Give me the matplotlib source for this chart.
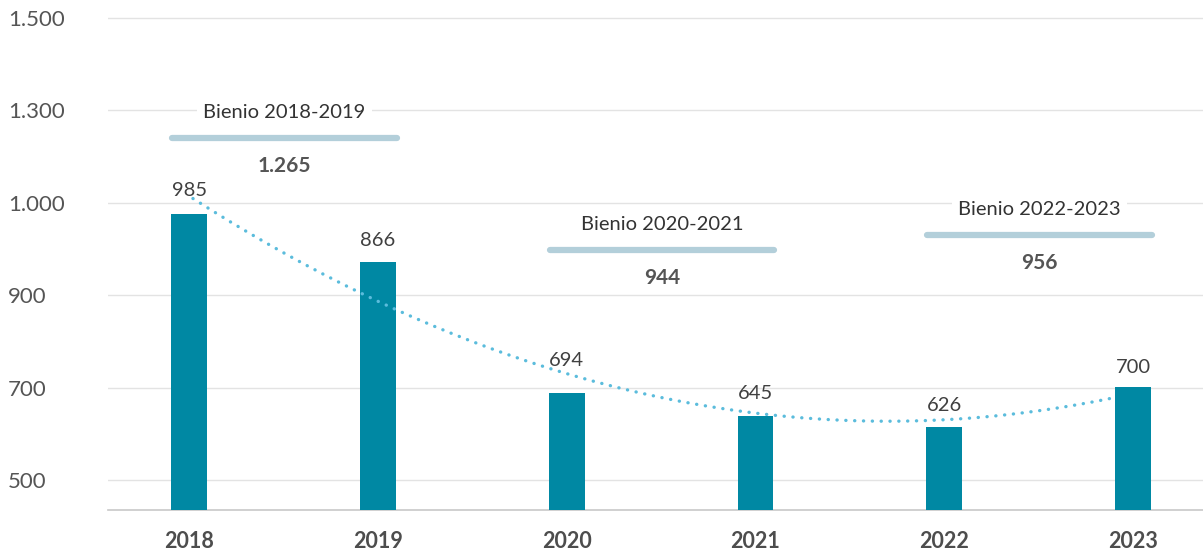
import numpy as np
import matplotlib.pyplot as plt

plt.rcParams['font.family'] = ['Lato', 'DejaVu Sans']

years = ["2018", "2019", "2020", "2021", "2022", "2023"]
bar_heights = [988, 936, 689, 639, 615, 702]
bar_labels = ["985", "866", "694", "645", "626", "700"]
bienios = ["Bienio 2018-2019", "Bienio 2020-2021", "Bienio 2022-2023"]
bienio_totals = ["1.265", "944", "956"]
tick_vals = [500, 700, 900, 1000, 1300, 1500]
tick_names = ["500", "700", "900", "1.000", "1.300", "1.500"]

# uneven axis: each tick label sits at equal spacing
knot_v = np.array([300] + tick_vals + [1700], dtype=float)
knot_p = np.arange(-1, len(tick_vals) + 1, dtype=float)


def fwd(v):
    return np.interp(v, knot_v, knot_p)


def inv(p):
    return np.interp(p, knot_p, knot_v)


bar_col = "#0088a3"
band_col = "#b3cfda"
trend_col = "#5bbcdc"
label_off = [11, 9.5, 17, 10, 9, 7.5]

fig = plt.figure(figsize=(12.03, 5.53), dpi=100)
ax = fig.add_axes([108 / 1203, 43 / 553, 1 - 108 / 1203, (510 - 10) / 553])
ax.set_yscale("function", functions=(fwd, inv))

x = np.arange(len(years))
ax.bar(x, bar_heights, width=0.19, color=bar_col, zorder=3)
for xi, h, lab, off in zip(x, bar_heights, bar_labels, label_off):
    ax.annotate(lab, (xi, h), xytext=(0, off), textcoords="offset points",
                ha="center", va="bottom", fontsize=14.5, color="#404040", zorder=5)

# quadratic trend fitted on the bar positions
coef = np.polyfit(x, fwd(np.array(bar_heights, dtype=float)), 2)
xt = np.linspace(0.02, 4.88, 200)
ax.plot(xt, inv(np.polyval(coef, xt)), color=trend_col, lw=2.4,
        linestyle=(0, (0.05, 2.6)), dash_capstyle="round", zorder=4)

# bienio bands
band_y = [1210, 949, 965]
for i, (name, tot, yb) in enumerate(zip(bienios, bienio_totals, band_y)):
    x0 = 2 * i - 0.09
    x1 = 2 * i + 1.1
    ax.plot([x0, x1], [yb, yb], color=band_col, lw=4.5, solid_capstyle="round", zorder=4)
    xc = (x0 + x1) / 2
    ax.annotate(name, (xc, yb), xytext=(0, 18.5), textcoords="offset points",
                ha="center", va="center", fontsize=14.5, color="#333333", zorder=5,
                bbox=dict(boxstyle="square,pad=0.3", fc="white", ec="none"))
    ax.annotate(tot, (xc, yb), xytext=(0, -20), textcoords="offset points",
                ha="center", va="center", fontsize=15, fontweight="bold",
                color="#555555", zorder=5)

ax.set_xlim(-0.43, 5.37)
ax.set_ylim(435, 1517)
ax.set_yticks(tick_vals)
ax.set_yticklabels(tick_names)
ax.set_xticks(x)
ax.set_xticklabels(years, fontweight="bold")
ax.grid(axis="y", color="#e3e3e3", lw=1, zorder=0)
ax.tick_params(axis="y", length=0, pad=72, labelsize=16, labelcolor="#555555")
for t in ax.get_yticklabels():
    t.set_horizontalalignment("left")
ax.tick_params(axis="x", length=0, pad=15, labelsize=15.5, labelcolor="#4d4d4d")
for s in ["top", "right", "left"]:
    ax.spines[s].set_visible(False)
ax.spines["bottom"].set_color("#c8c8c8")
ax.spines["bottom"].set_linewidth(1.2)

fig.savefig("out.png", dpi=100)
